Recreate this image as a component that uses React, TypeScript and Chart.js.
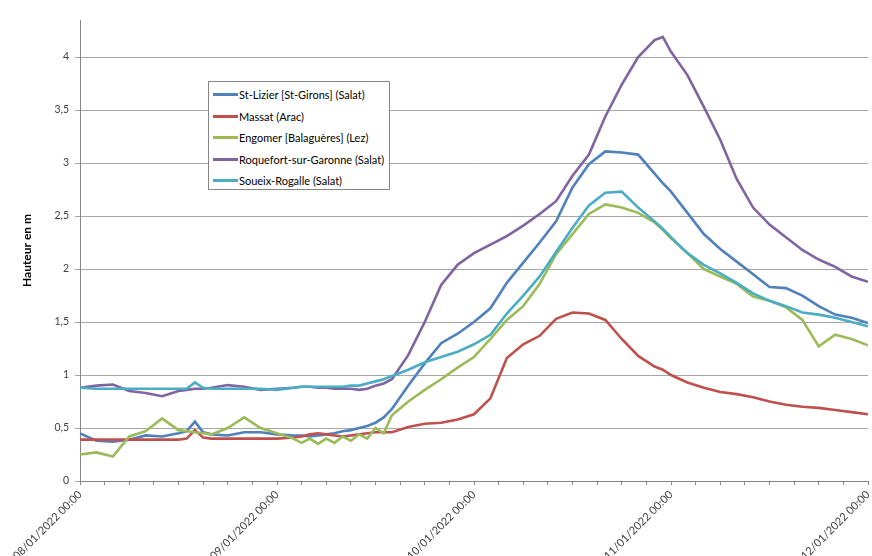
import { useEffect, useRef } from 'react';
import { Chart, registerables } from 'chart.js';

Chart.register(...registerables);

// Hours since 08/01/2022 00:00
const hours = [0, 2, 4, 6, 8, 10, 12, 13, 14, 15, 16, 18, 20, 22, 24, 26, 27, 28, 29, 30, 31, 32, 33, 34, 35, 36, 37, 38, 40, 42, 44, 46, 48, 50, 52, 54, 56, 58, 60, 62, 64, 66, 68, 70, 71, 72, 74, 76, 78, 80, 82, 84, 86, 88, 90, 92, 94, 96];

const dayLabels = ['08/01/2022 00:00', '09/01/2022 00:00', '10/01/2022 00:00', '11/01/2022 00:00', '12/01/2022 00:00'];

const seriesNames = [
  'St-Lizier [St-Girons] (Salat)',
  'Massat (Arac)',
  'Engomer [Balaguères] (Lez)',
  'Roquefort-sur-Garonne (Salat)',
  'Soueix-Rogalle (Salat)',
];

const seriesColors = ['#4F81BD', '#C0504D', '#9BBB59', '#8064A2', '#4BACC6'];

const stLizier = [0.45, 0.38, 0.37, 0.39, 0.43, 0.42, 0.45, 0.47, 0.56, 0.46, 0.44, 0.43, 0.46, 0.46, 0.44, 0.43, 0.43, 0.42, 0.43, 0.44, 0.45, 0.47, 0.48, 0.50, 0.52, 0.55, 0.60, 0.68, 0.90, 1.11, 1.30, 1.39, 1.50, 1.63, 1.87, 2.06, 2.25, 2.45, 2.77, 2.99, 3.11, 3.10, 3.08, 2.90, 2.81, 2.73, 2.53, 2.33, 2.19, 2.07, 1.95, 1.83, 1.82, 1.75, 1.65, 1.57, 1.54, 1.49];

const massat = [0.39, 0.39, 0.39, 0.39, 0.39, 0.39, 0.39, 0.40, 0.48, 0.41, 0.40, 0.40, 0.40, 0.40, 0.40, 0.41, 0.42, 0.44, 0.45, 0.44, 0.43, 0.42, 0.43, 0.44, 0.45, 0.46, 0.46, 0.46, 0.51, 0.54, 0.55, 0.58, 0.63, 0.78, 1.16, 1.29, 1.37, 1.53, 1.59, 1.58, 1.52, 1.34, 1.18, 1.08, 1.05, 1.00, 0.93, 0.88, 0.84, 0.82, 0.79, 0.75, 0.72, 0.70, 0.69, 0.67, 0.65, 0.63];

const engomer = [0.25, 0.27, 0.23, 0.42, 0.47, 0.59, 0.48, 0.47, 0.46, 0.45, 0.44, 0.50, 0.60, 0.50, 0.45, 0.40, 0.36, 0.40, 0.35, 0.40, 0.36, 0.42, 0.38, 0.44, 0.40, 0.50, 0.45, 0.62, 0.75, 0.86, 0.96, 1.07, 1.17, 1.34, 1.52, 1.65, 1.86, 2.14, 2.33, 2.52, 2.61, 2.58, 2.53, 2.44, 2.37, 2.29, 2.15, 2.00, 1.93, 1.86, 1.74, 1.70, 1.64, 1.52, 1.27, 1.38, 1.34, 1.28];

const roquefort = [0.88, 0.90, 0.91, 0.85, 0.83, 0.80, 0.85, 0.86, 0.87, 0.87, 0.88, 0.905, 0.89, 0.86, 0.87, 0.88, 0.89, 0.89, 0.88, 0.88, 0.87, 0.87, 0.87, 0.86, 0.87, 0.90, 0.92, 0.96, 1.19, 1.50, 1.85, 2.04, 2.15, 2.23, 2.31, 2.41, 2.52, 2.64, 2.88, 3.08, 3.44, 3.74, 4.00, 4.16, 4.19, 4.05, 3.83, 3.53, 3.22, 2.85, 2.58, 2.42, 2.30, 2.18, 2.09, 2.02, 1.93, 1.88];

const soueix = [0.88, 0.87, 0.87, 0.87, 0.87, 0.87, 0.87, 0.87, 0.93, 0.88, 0.87, 0.87, 0.87, 0.87, 0.86, 0.88, 0.89, 0.89, 0.89, 0.89, 0.89, 0.89, 0.90, 0.90, 0.92, 0.94, 0.96, 0.99, 1.05, 1.12, 1.17, 1.22, 1.29, 1.38, 1.58, 1.75, 1.93, 2.16, 2.39, 2.60, 2.72, 2.73, 2.58, 2.45, 2.38, 2.30, 2.15, 2.04, 1.96, 1.87, 1.77, 1.70, 1.65, 1.59, 1.57, 1.54, 1.50, 1.46];

const seriesValues = [stLizier, massat, engomer, roquefort, soueix];

const yTickValues = [0, 0.5, 1, 1.5, 2, 2.5, 3, 3.5, 4];

const FONT = 'Lato, "Liberation Sans", sans-serif';

export default function App() {
  const canvasRef = useRef<HTMLCanvasElement | null>(null);

  useEffect(() => {
    const canvas = canvasRef.current;
    if (!canvas) return;
    const chart = new Chart(canvas, {
      type: 'line',
      data: {
        datasets: seriesNames.map((name, i) => ({
          label: name,
          data: hours.map((h, j) => ({ x: h, y: seriesValues[i][j] })),
          borderColor: seriesColors[i],
          backgroundColor: seriesColors[i],
          borderWidth: 2.6,
          pointRadius: 0,
          tension: 0,
          fill: false,
          order: seriesNames.length - i,
        })),
      },
      options: {
        animation: false,
        responsive: false,
        layout: { padding: { left: 0, right: 4, top: 20, bottom: 0 } },
        plugins: {
          legend: { display: false },
          tooltip: { enabled: false },
          title: { display: false },
        },
        scales: {
          x: {
            type: 'linear',
            min: 0,
            max: 96,
            grid: {
              display: true,
              drawOnChartArea: false,
              drawTicks: true,
              tickLength: 4,
              color: '#868686',
            },
            border: { display: true, color: '#868686', width: 1 },
            ticks: {
              stepSize: 3,
              autoSkip: false,
              maxRotation: 45,
              minRotation: 45,
              padding: 3,
              color: '#404040',
              font: { family: FONT, size: 11 },
              callback: (value: any) => {
                const v = Number(value);
                if (v % 24 === 0) return dayLabels[v / 24] ?? '';
                return '';
              },
            },
            afterFit: (scale: any) => {
              scale.height = 75;
              scale.paddingLeft = 0;
              scale.paddingRight = 0;
            },
          },
          y: {
            type: 'linear',
            min: 0,
            max: 4.35,
            grid: {
              display: true,
              drawTicks: true,
              tickLength: 5,
              color: '#a6a6a6',
            },
            border: { display: true, color: '#868686', width: 1 },
            afterBuildTicks: (scale: any) => {
              scale.ticks = yTickValues.map((v) => ({ value: v }));
            },
            ticks: {
              padding: 6,
              color: '#404040',
              font: { family: FONT, size: 10.5 },
              callback: (value: any) => String(value).replace('.', ','),
            },
            title: {
              display: true,
              text: 'Hauteur en m',
              color: '#000000',
              font: { family: FONT, size: 12, weight: 'bold' },
              padding: { top: 20, bottom: 0 },
            },
            afterFit: (scale: any) => {
              scale.width = 80;
            },
          },
        },
      },
    });
    return () => chart.destroy();
  }, []);

  return (
    <div
      style={{
        position: 'absolute',
        left: 0,
        top: 0,
        width: 872,
        height: 556,
        overflow: 'hidden',
        background: '#ffffff',
      }}
    >
      <canvas ref={canvasRef} width={872} height={556} style={{ display: 'block', width: 872, height: 556 }} />
      <div
        style={{
          position: 'absolute',
          left: 208,
          top: 81,
          width: 182,
          height: 109,
          border: '1px solid #868686',
          background: '#ffffff',
          boxSizing: 'border-box',
          fontFamily: FONT,
          fontSize: 11,
          color: '#000000',
          paddingTop: 2,
        }}
      >
        {seriesNames.map((name, i) => (
          <div key={name} style={{ display: 'flex', alignItems: 'center', height: 21.5, whiteSpace: 'nowrap' }}>
            <span
              style={{
                display: 'inline-block',
                marginLeft: 4,
                width: 25,
                height: 3,
                background: seriesColors[i],
                marginRight: 1,
              }}
            />
            <span>{name}</span>
          </div>
        ))}
      </div>
    </div>
  );
}
